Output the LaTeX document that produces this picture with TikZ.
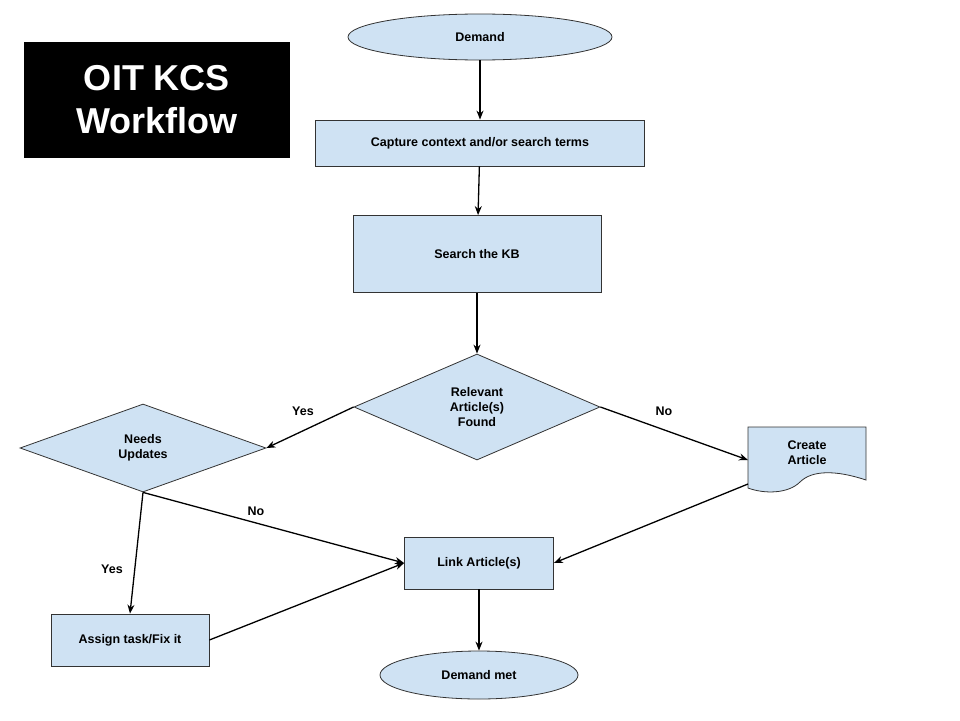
\documentclass[tikz,border=0pt]{standalone}
\usepackage{fontspec}
\setmainfont{Liberation Sans}
\usetikzlibrary{shapes.geometric,arrows.meta}
\definecolor{boxblue}{HTML}{CFE2F3}
\tikzset{
  base/.style={draw=black!80, fill=boxblue, font=\fontsize{12.5}{15}\selectfont\bfseries, align=center, line width=0.8pt},
  procbox/.style={base, rectangle, inner sep=0pt},
  termbox/.style={base, ellipse, inner sep=0pt},
  decbox/.style={base, diamond, aspect=2.3, inner sep=0pt},
  flow/.style={-{Stealth[length=9pt,width=7pt]}, line width=1.3pt},
  lbl/.style={font=\fontsize{12.5}{15}\selectfont\bfseries}
}
\begin{document}
\begin{tikzpicture}[x=1pt,y=-1pt]
    \useasboundingbox (0,0) rectangle (960,720);
    % title
    \node[fill=black, text=white, minimum width=266pt, minimum height=116pt, align=center,
      font=\fontsize{36}{43}\selectfont\bfseries] (title) at (157,100) {OIT KCS\\Workflow};
    % main column
    \node[termbox, minimum width=264pt, minimum height=46pt] (demand) at (480,37) {Demand};
    \node[procbox, minimum width=329pt, minimum height=46pt] (capture) at (480,143) {Capture context and/or search terms};
    \node[procbox, minimum width=248pt, minimum height=77pt] (search) at (477,254) {Search the KB};
    \node[decbox, minimum width=246pt, minimum height=106pt] (found) at (477,407) {Relevant\\Article(s)\\Found};
    \node[decbox, minimum width=246pt, minimum height=88pt, aspect=2.8] (needs) at (143,448) {Needs\\Updates};
    \node[procbox, minimum width=149pt, minimum height=52pt] (link) at (479,563) {Link Article(s)};
    \node[procbox, minimum width=158pt, minimum height=52pt] (assign) at (130,640) {Assign task/Fix it};
    \node[termbox, minimum width=198pt, minimum height=48pt] (met) at (479,675) {Demand met};
    % document shape
    \draw[base] (748,427) -- (866,427) -- (866,480)
      .. controls (836,470) and (812,470) .. (800,482)
      .. controls (788,494) and (764,494) .. (748,488) -- cycle;
    \node[lbl, align=center] (create) at (807,453) {Create\\Article};
    \coordinate (createw) at (748,460);
    \coordinate (createb) at (748,484);
    % connectors
    \draw[flow] (demand) -- (capture);
    \draw[flow] (capture) -- (search);
    \draw[flow] (search) -- (found);
    \draw[flow] (found.west) -- (needs.east);
    \draw[flow] (found.east) -- (createw);
    \draw[flow] (createb) -- (link.east);
    \draw[flow] (needs.south) -- (link.west);
    \draw[flow] (needs.south) -- (assign.north);
    \draw[flow] (assign.east) -- (link.west);
    \draw[flow] (link) -- (met);
    % labels
    \node[lbl] (yes1) at (303,411) {Yes};
    \node[lbl] (no1) at (664,411) {No};
    \node[lbl] (no2) at (256,511) {No};
    \node[lbl] (yes2) at (112,569) {Yes};
\end{tikzpicture}
\end{document}
